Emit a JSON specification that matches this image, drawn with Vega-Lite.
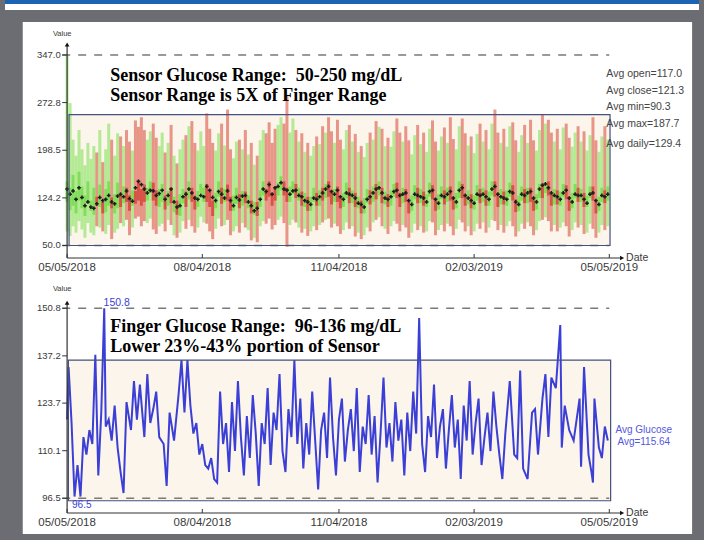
{
"$schema":"https://vega.github.io/schema/vega-lite/v6.json",
"width":704,"height":540,"padding":0,"autosize":{"type":"none"},
"background":"#6b6d72",
"config":{"view":{"stroke":null}},
"datasets":{
"candles":[
{"d":0,"o":118,"c":150,"l":72,"h":347,"a":138},{"d":2,"o":105,"c":140,"l":65,"h":272,"a":130},{"d":4,"o":112,"c":160,"l":80,"h":215,"a":135},{"d":6,"o":100,"c":135,"l":70,"h":190,"a":122},{"d":8,"o":120,"c":165,"l":88,"h":230,"a":140},{"d":10,"o":108,"c":142,"l":75,"h":200,"a":125},{"d":12,"o":96,"c":128,"l":62,"h":175,"a":112},{"d":14,"o":115,"c":150,"l":85,"h":210,"a":118},{"d":16,"o":104,"c":120,"l":70,"h":185,"a":110},{"d":18,"o":98,"c":140,"l":66,"h":205,"a":108},
{"d":20,"o":126,"c":112,"l":80,"h":195,"a":115},{"d":22,"o":110,"c":145,"l":78,"h":230,"a":125},{"d":24,"o":118,"c":100,"l":72,"h":180,"a":120},{"d":26,"o":102,"c":138,"l":68,"h":200,"a":122},{"d":28,"o":112,"c":150,"l":82,"h":240,"a":128},{"d":30,"o":125,"c":108,"l":60,"h":215,"a":118},{"d":32,"o":100,"c":130,"l":70,"h":190,"a":115},{"d":34,"o":108,"c":148,"l":76,"h":225,"a":127},{"d":36,"o":130,"c":110,"l":85,"h":220,"a":130},{"d":38,"o":116,"c":142,"l":80,"h":205,"a":126},
{"d":40,"o":140,"c":118,"l":90,"h":230,"a":135},{"d":42,"o":128,"c":104,"l":66,"h":212,"a":123},{"d":44,"o":112,"c":136,"l":78,"h":198,"a":119},{"d":46,"o":135,"c":115,"l":92,"h":245,"a":140},{"d":48,"o":150,"c":120,"l":95,"h":235,"a":150},{"d":50,"o":138,"c":112,"l":80,"h":250,"a":145},{"d":52,"o":145,"c":118,"l":88,"h":230,"a":138},{"d":54,"o":120,"c":140,"l":85,"h":215,"a":132},{"d":56,"o":132,"c":150,"l":92,"h":228,"a":136},{"d":58,"o":148,"c":120,"l":75,"h":240,"a":135},
{"d":60,"o":136,"c":112,"l":68,"h":218,"a":128},{"d":62,"o":110,"c":138,"l":80,"h":205,"a":131},{"d":64,"o":118,"c":146,"l":84,"h":226,"a":136},{"d":66,"o":128,"c":106,"l":72,"h":195,"a":122},{"d":68,"o":112,"c":135,"l":90,"h":210,"a":128},{"d":70,"o":140,"c":116,"l":82,"h":238,"a":138},{"d":72,"o":102,"c":126,"l":66,"h":190,"a":118},{"d":74,"o":120,"c":98,"l":62,"h":178,"a":110},{"d":76,"o":96,"c":130,"l":70,"h":200,"a":112},{"d":78,"o":116,"c":138,"l":88,"h":215,"a":126},
{"d":80,"o":134,"c":110,"l":76,"h":222,"a":130},{"d":82,"o":122,"c":150,"l":90,"h":236,"a":138},{"d":84,"o":140,"c":118,"l":80,"h":244,"a":132},{"d":86,"o":128,"c":106,"l":70,"h":210,"a":124},{"d":88,"o":110,"c":135,"l":78,"h":198,"a":122},{"d":90,"o":132,"c":146,"l":95,"h":228,"a":128},{"d":92,"o":118,"c":140,"l":86,"h":205,"a":126},{"d":94,"o":146,"c":118,"l":84,"h":256,"a":142},{"d":96,"o":135,"c":110,"l":72,"h":232,"a":136},{"d":98,"o":120,"c":96,"l":60,"h":210,"a":125},
{"d":100,"o":108,"c":132,"l":76,"h":198,"a":120},{"d":102,"o":126,"c":150,"l":92,"h":225,"a":134},{"d":104,"o":140,"c":115,"l":80,"h":240,"a":130},{"d":106,"o":118,"c":138,"l":82,"h":206,"a":124},{"d":108,"o":145,"c":120,"l":90,"h":262,"a":135},{"d":110,"o":126,"c":104,"l":66,"h":200,"a":120},{"d":112,"o":104,"c":128,"l":72,"h":186,"a":112},{"d":114,"o":115,"c":140,"l":80,"h":212,"a":125},{"d":116,"o":130,"c":108,"l":70,"h":215,"a":121},{"d":118,"o":112,"c":135,"l":85,"h":200,"a":127},
{"d":120,"o":134,"c":116,"l":78,"h":230,"a":128},{"d":122,"o":108,"c":128,"l":74,"h":192,"a":118},{"d":124,"o":120,"c":100,"l":58,"h":210,"a":112},{"d":126,"o":98,"c":118,"l":62,"h":176,"a":104},{"d":128,"o":118,"c":96,"l":55,"h":190,"a":108},{"d":130,"o":110,"c":136,"l":80,"h":214,"a":122},{"d":132,"o":128,"c":150,"l":88,"h":230,"a":138},{"d":134,"o":138,"c":120,"l":84,"h":225,"a":134},{"d":136,"o":150,"c":126,"l":92,"h":242,"a":145},{"d":138,"o":132,"c":112,"l":75,"h":210,"a":130},
{"d":140,"o":142,"c":120,"l":82,"h":232,"a":140},{"d":142,"o":128,"c":148,"l":90,"h":238,"a":142},{"d":144,"o":136,"c":158,"l":95,"h":250,"a":148},{"d":146,"o":150,"c":128,"l":85,"h":240,"a":138},{"d":148,"o":140,"c":118,"l":48,"h":285,"a":136},{"d":150,"o":118,"c":142,"l":82,"h":226,"a":130},{"d":152,"o":130,"c":150,"l":90,"h":248,"a":135},{"d":154,"o":146,"c":124,"l":86,"h":230,"a":136},{"d":156,"o":120,"c":140,"l":78,"h":212,"a":128},{"d":158,"o":134,"c":112,"l":70,"h":225,"a":126},
{"d":160,"o":110,"c":132,"l":76,"h":196,"a":120},{"d":162,"o":126,"c":104,"l":65,"h":210,"a":118},{"d":164,"o":104,"c":126,"l":72,"h":190,"a":114},{"d":166,"o":118,"c":140,"l":80,"h":205,"a":124},{"d":168,"o":132,"c":112,"l":74,"h":220,"a":122},{"d":170,"o":112,"c":136,"l":82,"h":208,"a":126},{"d":172,"o":140,"c":120,"l":86,"h":236,"a":132},{"d":174,"o":124,"c":146,"l":90,"h":226,"a":138},{"d":176,"o":150,"c":126,"l":92,"h":250,"a":142},{"d":178,"o":136,"c":114,"l":78,"h":228,"a":134},
{"d":180,"o":118,"c":138,"l":84,"h":210,"a":130},{"d":182,"o":142,"c":118,"l":80,"h":246,"a":136},{"d":184,"o":126,"c":108,"l":68,"h":215,"a":126},{"d":186,"o":110,"c":132,"l":74,"h":200,"a":122},{"d":188,"o":124,"c":148,"l":86,"h":230,"a":132},{"d":190,"o":140,"c":116,"l":76,"h":238,"a":130},{"d":192,"o":116,"c":136,"l":80,"h":212,"a":128},{"d":194,"o":132,"c":110,"l":64,"h":224,"a":124},{"d":196,"o":108,"c":126,"l":70,"h":196,"a":116},{"d":198,"o":120,"c":100,"l":60,"h":205,"a":114},
{"d":200,"o":100,"c":124,"l":66,"h":188,"a":110},{"d":202,"o":116,"c":138,"l":78,"h":210,"a":122},{"d":204,"o":136,"c":114,"l":72,"h":226,"a":126},{"d":206,"o":118,"c":142,"l":86,"h":215,"a":132},{"d":208,"o":146,"c":122,"l":90,"h":244,"a":138},{"d":210,"o":128,"c":150,"l":94,"h":235,"a":140},{"d":212,"o":140,"c":116,"l":80,"h":232,"a":132},{"d":214,"o":114,"c":134,"l":76,"h":205,"a":124},{"d":216,"o":130,"c":110,"l":68,"h":218,"a":122},{"d":218,"o":112,"c":136,"l":80,"h":204,"a":126},
{"d":220,"o":126,"c":146,"l":88,"h":228,"a":134},{"d":222,"o":148,"c":124,"l":84,"h":248,"a":136},{"d":224,"o":132,"c":110,"l":72,"h":226,"a":128},{"d":226,"o":116,"c":140,"l":82,"h":212,"a":130},{"d":228,"o":138,"c":118,"l":78,"h":236,"a":132},{"d":230,"o":120,"c":100,"l":62,"h":214,"a":120},{"d":232,"o":104,"c":128,"l":70,"h":192,"a":114},{"d":234,"o":122,"c":144,"l":84,"h":222,"a":130},{"d":236,"o":140,"c":116,"l":74,"h":238,"a":128},{"d":238,"o":116,"c":138,"l":80,"h":208,"a":126},
{"d":240,"o":134,"c":112,"l":70,"h":226,"a":124},{"d":242,"o":110,"c":130,"l":72,"h":196,"a":118},{"d":244,"o":126,"c":148,"l":88,"h":232,"a":134},{"d":246,"o":144,"c":122,"l":86,"h":245,"a":136},{"d":248,"o":124,"c":104,"l":66,"h":212,"a":122},{"d":250,"o":106,"c":130,"l":74,"h":198,"a":116},{"d":252,"o":122,"c":142,"l":82,"h":220,"a":128},{"d":254,"o":136,"c":114,"l":72,"h":234,"a":126},{"d":256,"o":118,"c":140,"l":84,"h":210,"a":130},{"d":258,"o":142,"c":120,"l":80,"h":250,"a":134},
{"d":260,"o":126,"c":106,"l":66,"h":216,"a":124},{"d":262,"o":108,"c":132,"l":76,"h":200,"a":118},{"d":264,"o":124,"c":150,"l":90,"h":236,"a":136},{"d":266,"o":146,"c":124,"l":86,"h":248,"a":140},{"d":268,"o":130,"c":112,"l":72,"h":225,"a":128},{"d":270,"o":114,"c":136,"l":80,"h":206,"a":124},{"d":272,"o":130,"c":108,"l":66,"h":220,"a":120},{"d":274,"o":106,"c":128,"l":72,"h":194,"a":116},{"d":276,"o":120,"c":144,"l":84,"h":224,"a":130},{"d":278,"o":138,"c":116,"l":76,"h":240,"a":128},
{"d":280,"o":118,"c":140,"l":86,"h":212,"a":130},{"d":282,"o":136,"c":112,"l":70,"h":230,"a":126},{"d":284,"o":112,"c":134,"l":78,"h":200,"a":122},{"d":286,"o":128,"c":150,"l":90,"h":240,"a":138},{"d":288,"o":150,"c":126,"l":88,"h":262,"a":142},{"d":290,"o":132,"c":110,"l":74,"h":226,"a":130},{"d":292,"o":114,"c":138,"l":82,"h":210,"a":126},{"d":294,"o":134,"c":114,"l":70,"h":232,"a":124},{"d":296,"o":112,"c":136,"l":80,"h":204,"a":122},{"d":298,"o":126,"c":148,"l":88,"h":236,"a":134},
{"d":300,"o":144,"c":120,"l":80,"h":242,"a":132},{"d":302,"o":122,"c":102,"l":64,"h":214,"a":118},{"d":304,"o":104,"c":128,"l":72,"h":196,"a":114},{"d":306,"o":120,"c":142,"l":84,"h":222,"a":130},{"d":308,"o":138,"c":116,"l":76,"h":238,"a":128},{"d":310,"o":116,"c":140,"l":86,"h":210,"a":132},{"d":312,"o":140,"c":118,"l":80,"h":246,"a":134},{"d":314,"o":124,"c":104,"l":66,"h":214,"a":124},{"d":316,"o":106,"c":130,"l":74,"h":198,"a":118},{"d":318,"o":124,"c":146,"l":88,"h":230,"a":138},
{"d":320,"o":146,"c":124,"l":90,"h":254,"a":144},{"d":322,"o":132,"c":148,"l":94,"h":240,"a":146},{"d":324,"o":150,"c":128,"l":88,"h":246,"a":140},{"d":326,"o":130,"c":112,"l":72,"h":226,"a":132},{"d":328,"o":114,"c":138,"l":82,"h":212,"a":128},{"d":330,"o":136,"c":114,"l":72,"h":232,"a":126},{"d":332,"o":112,"c":134,"l":78,"h":200,"a":122},{"d":334,"o":126,"c":146,"l":86,"h":234,"a":132},{"d":336,"o":144,"c":122,"l":80,"h":240,"a":136},{"d":338,"o":126,"c":104,"l":64,"h":218,"a":124},
{"d":340,"o":108,"c":132,"l":74,"h":204,"a":118},{"d":342,"o":124,"c":146,"l":86,"h":226,"a":130},{"d":344,"o":140,"c":118,"l":78,"h":236,"a":128},{"d":346,"o":118,"c":138,"l":82,"h":212,"a":128},{"d":348,"o":132,"c":110,"l":68,"h":228,"a":122},{"d":350,"o":110,"c":128,"l":70,"h":198,"a":116},{"d":352,"o":124,"c":142,"l":84,"h":222,"a":130},{"d":354,"o":142,"c":120,"l":76,"h":250,"a":132},{"d":356,"o":120,"c":100,"l":62,"h":214,"a":120},{"d":358,"o":104,"c":126,"l":70,"h":196,"a":114},
{"d":360,"o":118,"c":140,"l":82,"h":220,"a":128},{"d":362,"o":136,"c":116,"l":74,"h":236,"a":126},{"d":364,"o":120,"c":142,"l":80,"h":215,"a":130}
],
"finger":[
{"d":0,"g":119},{"d":1,"g":134},{"d":3,"g":118},{"d":5,"g":97},{"d":7,"g":106},{"d":9,"g":97},{"d":11,"g":114},{"d":13,"g":109},{"d":15,"g":116},{"d":17,"g":112},{"d":19,"g":137.5},{"d":21,"g":103},{"d":23,"g":121},{"d":25,"g":150.8},{"d":26,"g":117},{"d":28,"g":119},{"d":30,"g":113},{"d":32,"g":123},{"d":34,"g":111},{"d":36,"g":104},{"d":38,"g":98},{"d":40,"g":124},{"d":43,"g":116},{"d":45,"g":130},{"d":47,"g":119},{"d":49,"g":129},{"d":52,"g":114},{"d":54,"g":132},{"d":56,"g":118},{"d":58,"g":122},{"d":60,"g":127},{"d":62,"g":114},{"d":65,"g":112},{"d":67,"g":100},{"d":69,"g":121},{"d":72,"g":113},{"d":75,"g":126},{"d":77,"g":136},{"d":79,"g":121},{"d":81,"g":136},{"d":83,"g":123},{"d":85,"g":115},{"d":87,"g":118},{"d":89,"g":109},{"d":91,"g":112},{"d":93,"g":106},{"d":95,"g":105},{"d":97,"g":108},{"d":99,"g":102},{"d":101,"g":101},{"d":103,"g":127},
{"d":105,"g":112},{"d":107,"g":118},{"d":109,"g":104},{"d":111,"g":124},{"d":113,"g":110},{"d":115,"g":130},{"d":117,"g":114},{"d":119,"g":103},{"d":121,"g":120},{"d":123,"g":108},{"d":125,"g":126},{"d":127,"g":115},{"d":129,"g":100},{"d":131,"g":118},{"d":133,"g":112},{"d":135,"g":128},{"d":137,"g":106},{"d":139,"g":121},{"d":141,"g":116},{"d":143,"g":132},{"d":145,"g":110},{"d":147,"g":104},{"d":149,"g":122},{"d":151,"g":114},{"d":153,"g":136},{"d":155,"g":112},{"d":157,"g":125},{"d":159,"g":105},{"d":161,"g":118},{"d":163,"g":109},{"d":165,"g":127},{"d":167,"g":113},{"d":169,"g":99},{"d":171,"g":116},{"d":173,"g":121},{"d":175,"g":108},{"d":177,"g":131},{"d":179,"g":114},{"d":181,"g":103},{"d":183,"g":119},{"d":185,"g":125},{"d":187,"g":107},{"d":189,"g":116},{"d":191,"g":122},{"d":193,"g":110},{"d":195,"g":128},{"d":197,"g":104},{"d":199,"g":117},{"d":201,"g":112},{"d":203,"g":126},{"d":205,"g":109},{"d":207,"g":120},{"d":209,"g":101},{"d":211,"g":115},{"d":213,"g":131},{"d":215,"g":111},{"d":217,"g":118},{"d":219,"g":107},{"d":221,"g":124},{"d":223,"g":113},{"d":225,"g":119},{"d":227,"g":103},{"d":229,"g":121},{"d":231,"g":110},{"d":233,"g":127},{"d":235,"g":115},{"d":237,"g":148},{"d":239,"g":112},{"d":241,"g":104},{"d":243,"g":120},{"d":245,"g":114},{"d":247,"g":129},{"d":249,"g":108},{"d":251,"g":117},{"d":253,"g":122},{"d":255,"g":105},{"d":257,"g":116},{"d":259,"g":126},{"d":261,"g":111},{"d":263,"g":119},{"d":265,"g":102},{"d":267,"g":123},{"d":269,"g":113},{"d":271,"g":130},{"d":273,"g":109},{"d":275,"g":118},{"d":277,"g":125},{"d":279,"g":106},{"d":281,"g":114},{"d":283,"g":121},{"d":285,"g":110},{"d":287,"g":127},{"d":289,"g":117},
{"d":291,"g":109},{"d":293,"g":102},{"d":295,"g":115},{"d":298,"g":130},{"d":301,"g":109},{"d":303,"g":108},{"d":305,"g":133},{"d":307,"g":105},{"d":310,"g":102},{"d":313,"g":121},{"d":315,"g":122},{"d":317,"g":109},{"d":320,"g":125},{"d":322,"g":132},{"d":324,"g":114},{"d":326,"g":131},{"d":329,"g":128},{"d":332,"g":146},{"d":333,"g":111},{"d":335,"g":123},{"d":338,"g":116},{"d":341,"g":113},{"d":343,"g":119},{"d":345,"g":125},{"d":346,"g":105.5},{"d":348,"g":134},{"d":351,"g":109},{"d":353,"g":104},{"d":354,"g":101},{"d":355,"g":125},{"d":358,"g":111},{"d":360,"g":108},{"d":362,"g":117},{"d":364,"g":113}
],
"topTicks":[{"v":50.0},{"v":124.2},{"v":198.5},{"v":272.8},{"v":347.0}],
"topRefs":[{"v":347.0},{"v":50.0}],
"bottomTicks":[{"v":96.5},{"v":110.1},{"v":123.7},{"v":137.2},{"v":150.8}],
"bottomRefs":[{"v":150.8},{"v":96.5}],
"dates":[{"d":0,"t":"05/05/2018"},{"d":91,"t":"08/04/2018"},{"d":183,"t":"11/04/2018"},{"d":274,"t":"02/03/2019"},{"d":365,"t":"05/05/2019"}]
},
"resolve":{"scale":{"y":"independent"}},
"layer":[
{
"layer":[
{"data":{"values":[{}]},"mark":{"type":"rect","fill":"#1d63b3"},
 "encoding":{"x":{"datum":-41.81,"type":"quantitative","scale":{"domain":[-41.81,425.39],"nice":false,"zero":false},"axis":null},"x2":{"datum":425.39},
 "y":{"datum":426.51,"type":"quantitative","scale":{"domain":[-409.15,432.75],"nice":false,"zero":false},"axis":null},"y2":{"datum":432.75}}},
{"data":{"values":[{}]},"mark":{"type":"rect","fill":"#ffffff"},
 "encoding":{"x":{"datum":-41.81,"type":"quantitative","scale":{"domain":[-41.81,425.39],"nice":false,"zero":false},"axis":null},"x2":{"datum":425.39},
 "y":{"datum":417.16,"type":"quantitative","scale":{"domain":[-409.15,432.75],"nice":false,"zero":false},"axis":null},"y2":{"datum":426.51}}},
{"data":{"values":[{}]},"mark":{"type":"rect","fill":"#ffffff"},
 "encoding":{"x":{"datum":-29.86,"type":"quantitative","scale":{"domain":[-41.81,425.39],"nice":false,"zero":false},"axis":null},"x2":{"datum":420.74},
 "y":{"datum":-399.79,"type":"quantitative","scale":{"domain":[-409.15,432.75],"nice":false,"zero":false},"axis":null},"y2":{"datum":398.45}}},
{"data":{"values":[{}]},"mark":{"type":"rect","fill":"#fbf5ec"},
 "encoding":{"x":{"datum":1.3,"type":"quantitative","scale":{"domain":[-41.81,425.39],"nice":false,"zero":false},"axis":null},"x2":{"datum":365.5},
 "y":{"datum":50,"type":"quantitative","scale":{"domain":[-409.15,432.75],"nice":false,"zero":false},"axis":null},"y2":{"datum":254}}},
{"data":{"name":"candles"},"mark":{"type":"rule","strokeWidth":3,"opacity":0.62},
 "encoding":{"x":{"field":"d","type":"quantitative","scale":{"domain":[-41.81,425.39],"nice":false,"zero":false},"axis":null},
 "y":{"field":"l","type":"quantitative","scale":{"domain":[-409.15,432.75],"nice":false,"zero":false},"axis":null},"y2":{"field":"h"},
 "color":{"condition":{"test":"datum.c >= datum.o","value":"#86e45c"},"value":"#dc5a4b"}}},
{"data":{"name":"candles"},"mark":{"type":"bar","size":3,"opacity":0.8},
 "encoding":{"x":{"field":"d","type":"quantitative","scale":{"domain":[-41.81,425.39],"nice":false,"zero":false},"axis":null},
 "y":{"field":"o","type":"quantitative","scale":{"domain":[-409.15,432.75],"nice":false,"zero":false},"axis":null},"y2":{"field":"c"},
 "color":{"condition":{"test":"datum.c >= datum.o","value":"#74da4c"},"value":"#d24234"}}},
{"data":{"name":"candles"},"mark":{"type":"point","shape":"cross","filled":true,"size":14,"color":"#1c1c1c","opacity":1},
 "encoding":{"x":{"field":"d","type":"quantitative","scale":{"domain":[-41.81,425.39],"nice":false,"zero":false},"axis":null},
 "y":{"field":"a","type":"quantitative","scale":{"domain":[-409.15,432.75],"nice":false,"zero":false},"axis":null}}},
{"data":{"name":"topRefs"},"mark":{"type":"rule","color":"#7a7a7a","strokeWidth":1.5,"strokeDash":[8,8]},
 "encoding":{"x":{"datum":-3.3,"type":"quantitative","scale":{"domain":[-41.81,425.39],"nice":false,"zero":false},"axis":null},"x2":{"datum":365},
 "y":{"field":"v","type":"quantitative","scale":{"domain":[-409.15,432.75],"nice":false,"zero":false},"axis":null}}},
{"data":{"values":[{}]},"mark":{"type":"rect","fill":null,"fillOpacity":0,"stroke":"#44507e","strokeWidth":1.2},
 "encoding":{"x":{"datum":1.3,"type":"quantitative","scale":{"domain":[-41.81,425.39],"nice":false,"zero":false},"axis":null},"x2":{"datum":365.5},
 "y":{"datum":50,"type":"quantitative","scale":{"domain":[-409.15,432.75],"nice":false,"zero":false},"axis":null},"y2":{"datum":254}}},
{"data":{"values":[{}]},"mark":{"type":"rule","color":"#333333","strokeWidth":1.2},
 "encoding":{"x":{"datum":0,"type":"quantitative","scale":{"domain":[-41.81,425.39],"nice":false,"zero":false},"axis":null},
 "y":{"datum":30.51,"type":"quantitative","scale":{"domain":[-409.15,432.75],"nice":false,"zero":false},"axis":null},"y2":{"datum":363}}},
{"data":{"values":[{}]},"mark":{"type":"rule","color":"#333333","strokeWidth":1.2},
 "encoding":{"x":{"datum":0,"type":"quantitative","scale":{"domain":[-41.81,425.39],"nice":false,"zero":false},"axis":null},"x2":{"datum":373},
 "y":{"datum":30.51,"type":"quantitative","scale":{"domain":[-409.15,432.75],"nice":false,"zero":false},"axis":null}}},
{"data":{"values":[{}]},"mark":{"type":"point","shape":"triangle-up","filled":true,"size":22,"color":"#111111","opacity":1},
 "encoding":{"x":{"datum":0,"type":"quantitative","scale":{"domain":[-41.81,425.39],"nice":false,"zero":false},"axis":null},
 "y":{"datum":363.5,"type":"quantitative","scale":{"domain":[-409.15,432.75],"nice":false,"zero":false},"axis":null}}},
{"data":{"values":[{}]},"mark":{"type":"point","shape":"triangle-right","filled":true,"size":22,"color":"#111111","opacity":1},
 "encoding":{"x":{"datum":373.6,"type":"quantitative","scale":{"domain":[-41.81,425.39],"nice":false,"zero":false},"axis":null},
 "y":{"datum":30.51,"type":"quantitative","scale":{"domain":[-409.15,432.75],"nice":false,"zero":false},"axis":null}}},
{"data":{"name":"topTicks"},"mark":{"type":"rule","color":"#333333","strokeWidth":1},
 "encoding":{"x":{"datum":-3.3,"type":"quantitative","scale":{"domain":[-41.81,425.39],"nice":false,"zero":false},"axis":null},"x2":{"datum":0},
 "y":{"field":"v","type":"quantitative","scale":{"domain":[-409.15,432.75],"nice":false,"zero":false},"axis":null}}},
{"data":{"name":"topTicks"},"mark":{"type":"text","align":"right","baseline":"middle","font":"Liberation Sans","fontSize":9.5,"color":"#3a3a3a"},
 "encoding":{"x":{"datum":-4.3,"type":"quantitative","scale":{"domain":[-41.81,425.39],"nice":false,"zero":false},"axis":null},
 "y":{"field":"v","type":"quantitative","scale":{"domain":[-409.15,432.75],"nice":false,"zero":false},"axis":null},
 "text":{"field":"v","type":"quantitative","format":".1f"}}},
{"data":{"name":"dates"},"mark":{"type":"rule","color":"#333333","strokeWidth":1},
 "encoding":{"x":{"field":"d","type":"quantitative","scale":{"domain":[-41.81,425.39],"nice":false,"zero":false},"axis":null},
 "y":{"datum":30.51,"type":"quantitative","scale":{"domain":[-409.15,432.75],"nice":false,"zero":false},"axis":null},"y2":{"datum":36.75}}},
{"data":{"name":"dates"},"mark":{"type":"text","align":"center","baseline":"middle","font":"Liberation Sans","fontSize":11.5,"color":"#3a3a3a"},
 "encoding":{"x":{"field":"d","type":"quantitative","scale":{"domain":[-41.81,425.39],"nice":false,"zero":false},"axis":null},
 "y":{"datum":14.92,"type":"quantitative","scale":{"domain":[-409.15,432.75],"nice":false,"zero":false},"axis":null},
 "text":{"field":"t"}}},
{"data":{"values":[{}]},"mark":{"type":"text","align":"center","baseline":"middle","font":"Liberation Sans","fontSize":7.5,"color":"#3a3a3a"},
 "encoding":{"x":{"datum":-3.3,"type":"quantitative","scale":{"domain":[-41.81,425.39],"nice":false,"zero":false},"axis":null},
 "y":{"datum":379.74,"type":"quantitative","scale":{"domain":[-409.15,432.75],"nice":false,"zero":false},"axis":null},
 "text":{"value":"Value"}}},
{"data":{"values":[{}]},"mark":{"type":"text","align":"left","baseline":"middle","font":"Liberation Sans","fontSize":10.5,"color":"#3a3a3a"},
 "encoding":{"x":{"datum":376.3,"type":"quantitative","scale":{"domain":[-41.81,425.39],"nice":false,"zero":false},"axis":null},
 "y":{"datum":30.51,"type":"quantitative","scale":{"domain":[-409.15,432.75],"nice":false,"zero":false},"axis":null},
 "text":{"value":"Date"}}},
{"data":{"values":[{}]},"mark":{"type":"text","align":"left","baseline":"alphabetic","font":"Liberation Serif","fontWeight":"bold","fontSize":18,"lineHeight":20.3,"color":"#000000"},
 "encoding":{"x":{"datum":29.0,"type":"quantitative","scale":{"domain":[-41.81,425.39],"nice":false,"zero":false},"axis":null},
 "y":{"datum":306.46,"type":"quantitative","scale":{"domain":[-409.15,432.75],"nice":false,"zero":false},"axis":null},
 "text":{"value":["Sensor Glucose Range:\u00a0 50-250 mg/dL","Sensor Range is 5X of Finger Range"]}}},
{"data":{"values":[{}]},"mark":{"type":"text","align":"left","baseline":"alphabetic","font":"Liberation Sans","fontSize":10.5,"lineHeight":16.5,"color":"#444444"},
 "encoding":{"x":{"datum":363.0,"type":"quantitative","scale":{"domain":[-41.81,425.39],"nice":false,"zero":false},"axis":null},
 "y":{"datum":312.54,"type":"quantitative","scale":{"domain":[-409.15,432.75],"nice":false,"zero":false},"axis":null},
 "text":{"value":["Avg open=117.0","Avg close=121.3","Avg min=90.3","Avg max=187.7"]}}},
{"data":{"values":[{}]},"mark":{"type":"text","align":"left","baseline":"alphabetic","font":"Liberation Sans","fontSize":10.5,"color":"#444444"},
 "encoding":{"x":{"datum":363.0,"type":"quantitative","scale":{"domain":[-41.81,425.39],"nice":false,"zero":false},"axis":null},
 "y":{"datum":203.41,"type":"quantitative","scale":{"domain":[-409.15,432.75],"nice":false,"zero":false},"axis":null},
 "text":{"value":"Avg daily=129.4"}}}
]
},
{
"layer":[
{"data":{"values":[{}]},"mark":{"type":"rect","fill":"#fbf5ec"},
 "encoding":{"x":{"datum":0.87,"type":"quantitative","scale":{"domain":[-41.81,425.39],"nice":false,"zero":false},"axis":null},"x2":{"datum":365.9},
 "y":{"datum":95.8,"type":"quantitative","scale":{"domain":[84.58,238.91],"nice":false,"zero":false},"axis":null},"y2":{"datum":136.0}}},
{"data":{"name":"bottomRefs"},"mark":{"type":"rule","color":"#7a7a7a","strokeWidth":1.5,"strokeDash":[8,8]},
 "encoding":{"x":{"datum":-3.3,"type":"quantitative","scale":{"domain":[-41.81,425.39],"nice":false,"zero":false},"axis":null},"x2":{"datum":365},
 "y":{"field":"v","type":"quantitative","scale":{"domain":[84.58,238.91],"nice":false,"zero":false},"axis":null}}},
{"data":{"name":"finger"},"mark":{"type":"line","color":"#3b3fd6","strokeWidth":2},
 "encoding":{"x":{"field":"d","type":"quantitative","scale":{"domain":[-41.81,425.39],"nice":false,"zero":false},"axis":null},
 "y":{"field":"g","type":"quantitative","scale":{"domain":[84.58,238.91],"nice":false,"zero":false},"axis":null}}},
{"data":{"values":[{}]},"mark":{"type":"rect","fill":null,"fillOpacity":0,"stroke":"#44507e","strokeWidth":1.2},
 "encoding":{"x":{"datum":0.87,"type":"quantitative","scale":{"domain":[-41.81,425.39],"nice":false,"zero":false},"axis":null},"x2":{"datum":365.9},
 "y":{"datum":95.8,"type":"quantitative","scale":{"domain":[84.58,238.91],"nice":false,"zero":false},"axis":null},"y2":{"datum":136.0}}},
{"data":{"values":[{}]},"mark":{"type":"rule","color":"#333333","strokeWidth":1.2},
 "encoding":{"x":{"datum":0,"type":"quantitative","scale":{"domain":[-41.81,425.39],"nice":false,"zero":false},"axis":null},
 "y":{"datum":92.3,"type":"quantitative","scale":{"domain":[84.58,238.91],"nice":false,"zero":false},"axis":null},"y2":{"datum":152.3}}},
{"data":{"values":[{}]},"mark":{"type":"rule","color":"#333333","strokeWidth":1.2},
 "encoding":{"x":{"datum":0,"type":"quantitative","scale":{"domain":[-41.81,425.39],"nice":false,"zero":false},"axis":null},"x2":{"datum":373},
 "y":{"datum":92.3,"type":"quantitative","scale":{"domain":[84.58,238.91],"nice":false,"zero":false},"axis":null}}},
{"data":{"values":[{}]},"mark":{"type":"point","shape":"triangle-up","filled":true,"size":22,"color":"#111111","opacity":1},
 "encoding":{"x":{"datum":0,"type":"quantitative","scale":{"domain":[-41.81,425.39],"nice":false,"zero":false},"axis":null},
 "y":{"datum":152.4,"type":"quantitative","scale":{"domain":[84.58,238.91],"nice":false,"zero":false},"axis":null}}},
{"data":{"values":[{}]},"mark":{"type":"point","shape":"triangle-right","filled":true,"size":22,"color":"#111111","opacity":1},
 "encoding":{"x":{"datum":373.6,"type":"quantitative","scale":{"domain":[-41.81,425.39],"nice":false,"zero":false},"axis":null},
 "y":{"datum":92.3,"type":"quantitative","scale":{"domain":[84.58,238.91],"nice":false,"zero":false},"axis":null}}},
{"data":{"name":"bottomTicks"},"mark":{"type":"rule","color":"#333333","strokeWidth":1},
 "encoding":{"x":{"datum":-3.3,"type":"quantitative","scale":{"domain":[-41.81,425.39],"nice":false,"zero":false},"axis":null},"x2":{"datum":0},
 "y":{"field":"v","type":"quantitative","scale":{"domain":[84.58,238.91],"nice":false,"zero":false},"axis":null}}},
{"data":{"name":"bottomTicks"},"mark":{"type":"text","align":"right","baseline":"middle","font":"Liberation Sans","fontSize":9.5,"color":"#3a3a3a"},
 "encoding":{"x":{"datum":-4.3,"type":"quantitative","scale":{"domain":[-41.81,425.39],"nice":false,"zero":false},"axis":null},
 "y":{"field":"v","type":"quantitative","scale":{"domain":[84.58,238.91],"nice":false,"zero":false},"axis":null},
 "text":{"field":"v","type":"quantitative","format":".1f"}}},
{"data":{"name":"dates"},"mark":{"type":"rule","color":"#333333","strokeWidth":1},
 "encoding":{"x":{"field":"d","type":"quantitative","scale":{"domain":[-41.81,425.39],"nice":false,"zero":false},"axis":null},
 "y":{"datum":92.3,"type":"quantitative","scale":{"domain":[84.58,238.91],"nice":false,"zero":false},"axis":null},"y2":{"datum":93.44}}},
{"data":{"name":"dates"},"mark":{"type":"text","align":"center","baseline":"middle","font":"Liberation Sans","fontSize":11.5,"color":"#3a3a3a"},
 "encoding":{"x":{"field":"d","type":"quantitative","scale":{"domain":[-41.81,425.39],"nice":false,"zero":false},"axis":null},
 "y":{"datum":89.3,"type":"quantitative","scale":{"domain":[84.58,238.91],"nice":false,"zero":false},"axis":null},
 "text":{"field":"t"}}},
{"data":{"values":[{}]},"mark":{"type":"text","align":"center","baseline":"middle","font":"Liberation Sans","fontSize":7.5,"color":"#3a3a3a"},
 "encoding":{"x":{"datum":-3.3,"type":"quantitative","scale":{"domain":[-41.81,425.39],"nice":false,"zero":false},"axis":null},
 "y":{"datum":156.32,"type":"quantitative","scale":{"domain":[84.58,238.91],"nice":false,"zero":false},"axis":null},
 "text":{"value":"Value"}}},
{"data":{"values":[{}]},"mark":{"type":"text","align":"left","baseline":"middle","font":"Liberation Sans","fontSize":10.5,"color":"#3a3a3a"},
 "encoding":{"x":{"datum":376.3,"type":"quantitative","scale":{"domain":[-41.81,425.39],"nice":false,"zero":false},"axis":null},
 "y":{"datum":92.3,"type":"quantitative","scale":{"domain":[84.58,238.91],"nice":false,"zero":false},"axis":null},
 "text":{"value":"Date"}}},
{"data":{"values":[{}]},"mark":{"type":"text","align":"left","baseline":"middle","font":"Liberation Sans","fontSize":10.5,"color":"#3b3fd6"},
 "encoding":{"x":{"datum":24.55,"type":"quantitative","scale":{"domain":[-41.81,425.39],"nice":false,"zero":false},"axis":null},
 "y":{"datum":152.4,"type":"quantitative","scale":{"domain":[84.58,238.91],"nice":false,"zero":false},"axis":null},
 "text":{"value":"150.8"}}},
{"data":{"values":[{}]},"mark":{"type":"text","align":"left","baseline":"middle","font":"Liberation Sans","fontSize":10,"color":"#3b3fd6"},
 "encoding":{"x":{"datum":3.3,"type":"quantitative","scale":{"domain":[-41.81,425.39],"nice":false,"zero":false},"axis":null},
 "y":{"datum":94.59,"type":"quantitative","scale":{"domain":[84.58,238.91],"nice":false,"zero":false},"axis":null},
 "text":{"value":"96.5"}}},
{"data":{"values":[{}]},"mark":{"type":"text","align":"center","baseline":"alphabetic","font":"Liberation Sans","fontSize":10,"lineHeight":12,"color":"#5558e0"},
 "encoding":{"x":{"datum":388.2,"type":"quantitative","scale":{"domain":[-41.81,425.39],"nice":false,"zero":false},"axis":null},
 "y":{"datum":115.02,"type":"quantitative","scale":{"domain":[84.58,238.91],"nice":false,"zero":false},"axis":null},
 "text":{"value":["Avg Glucose","Avg=115.64"]}}},
{"data":{"values":[{}]},"mark":{"type":"text","align":"left","baseline":"alphabetic","font":"Liberation Serif","fontWeight":"bold","fontSize":18,"lineHeight":19.5,"color":"#000000"},
 "encoding":{"x":{"datum":29.0,"type":"quantitative","scale":{"domain":[-41.81,425.39],"nice":false,"zero":false},"axis":null},
 "y":{"datum":143.94,"type":"quantitative","scale":{"domain":[84.58,238.91],"nice":false,"zero":false},"axis":null},
 "text":{"value":["Finger Glucose Range:\u00a0 96-136 mg/dL","Lower 23%-43% portion of Sensor"]}}}
]
}
]
}
